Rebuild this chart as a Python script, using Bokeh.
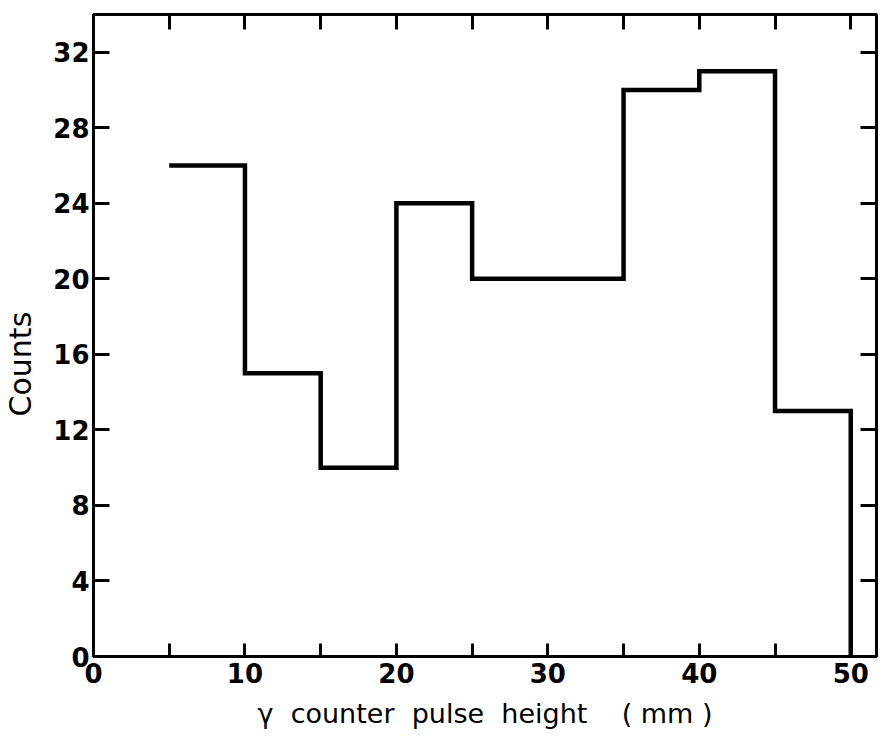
from bokeh.plotting import figure
from bokeh.models import LinearAxis, FixedTicker, Range1d
from bokeh.embed import file_html
from bokeh.resources import INLINE

# Data
bin_edges = [5, 10, 15, 20, 25, 35, 40, 45, 50]
counts = [26, 15, 10, 24, 20, 30, 31, 13]
x_ticks = [0, 10, 20, 30, 40, 50]
x_minor = [5, 15, 25, 35, 45]
y_ticks = [0, 4, 8, 12, 16, 20, 24, 28, 32]

FONT = "DejaVu Sans"
NB = "\u00a0"

p = figure(width=892, height=737, output_backend="svg", toolbar_location=None,
           x_range=Range1d(0, 51.7), y_range=Range1d(0, 34),
           x_axis_type=None, y_axis_type=None,
           min_border_left=92, min_border_right=16, min_border_top=14, min_border_bottom=81)
p.grid.visible = False
p.outline_line_color = "black"
p.outline_line_width = 3
p.background_fill_color = "white"
p.border_fill_color = "white"

def style(ax, labels=True, tick_len=15):
    ax.axis_line_color = "black"
    ax.axis_line_width = 3
    ax.major_tick_in = tick_len
    ax.major_tick_out = 0
    ax.minor_tick_in = tick_len
    ax.minor_tick_out = 0
    ax.major_tick_line_width = 3
    ax.minor_tick_line_width = 3
    ax.major_tick_line_color = "black"
    ax.minor_tick_line_color = "black"
    ax.major_label_text_font = FONT
    ax.major_label_text_font_style = "bold"
    ax.major_label_text_font_size = "26px"
    ax.major_label_text_color = "black" if labels else None
    ax.axis_label_text_font = FONT
    ax.axis_label_text_font_style = "normal"
    ax.axis_label_text_font_size = "27px"
    ax.axis_label_text_color = "black"

xt = FixedTicker(ticks=x_ticks, minor_ticks=x_minor)
yt = FixedTicker(ticks=y_ticks)

x_title = ("γ" + NB * 2 + "counter" + NB * 2 + "pulse" + NB * 2 + "height"
           + NB * 4 + "(" + NB + "mm" + NB + ")")
bottom = LinearAxis(ticker=xt, axis_label=x_title)
style(bottom, True, 13)
bottom.major_label_standoff = 6
bottom.axis_label_standoff = 12
p.add_layout(bottom, "below")

top = LinearAxis(ticker=xt)
style(top, False, 15)
top.major_label_text_font_size = "0px"
p.add_layout(top, "above")

left = LinearAxis(ticker=yt, axis_label="Counts" + NB * 6)
style(left, True, 16)
left.axis_label_text_font_size = "30px"
left.major_label_standoff = 4
left.axis_label_standoff = 12
p.add_layout(left, "left")

right = LinearAxis(ticker=yt)
style(right, False, 16)
right.major_label_text_font_size = "0px"
p.add_layout(right, "right")

# Histogram step outline
xs = list(bin_edges)
ys = list(counts) + [0]
p.step(x=xs, y=ys, mode="after", line_color="black", line_width=4.5, line_join="miter")

open("out.html", "w").write(file_html(p, INLINE))
